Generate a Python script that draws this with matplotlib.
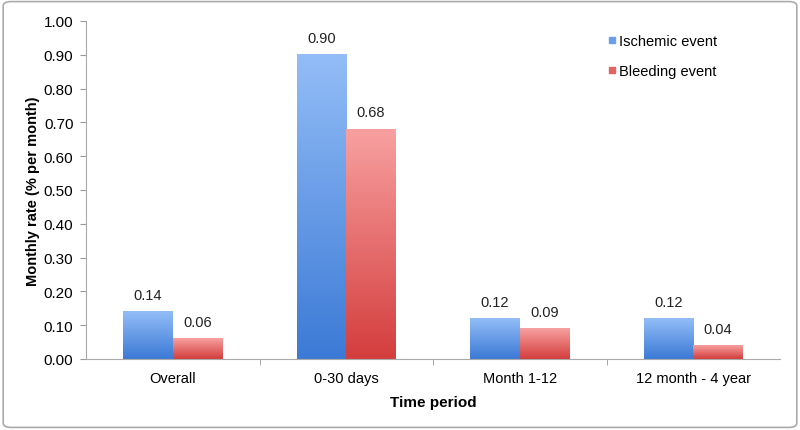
import numpy as np
import matplotlib.pyplot as plt
from matplotlib.patches import FancyBboxPatch
from matplotlib.colors import LinearSegmentedColormap
from matplotlib.lines import Line2D

plt.rcParams['font.family'] = ['Liberation Sans', 'DejaVu Sans']

# data
categories = ['Overall', '0-30 days', 'Month 1-12', '12 month - 4 year']
ischemic = [0.14, 0.90, 0.12, 0.12]
bleeding = [0.06, 0.68, 0.09, 0.04]
series_names = ['Ischemic event', 'Bleeding event']

# gradient colours (bottom, top)
blue_cm = LinearSegmentedColormap.from_list('b', ['#3c7ad6', '#93bdf7'])
red_cm = LinearSegmentedColormap.from_list('r', ['#d43d3d', '#f8a0a0'])

fig = plt.figure(figsize=(8, 4.31), dpi=100)
ax = fig.add_axes([0.1075, 0.165, 0.8675, 0.784])

x = np.arange(len(categories))
w = 0.285
b1 = ax.bar(x - w / 2, ischemic, w, color='none', label=series_names[0])
b2 = ax.bar(x + w / 2, bleeding, w, color='none', label=series_names[1])

grad = np.linspace(0, 1, 256).reshape(-1, 1)
for bars, cm in ((b1, blue_cm), (b2, red_cm)):
    for r in bars:
        x0, y0 = r.get_x(), r.get_y()
        ax.imshow(grad, cmap=cm, origin='lower', aspect='auto',
                  extent=(x0, x0 + r.get_width(), y0, y0 + r.get_height()),
                  zorder=2)

for bars, vals in ((b1, ischemic), (b2, bleeding)):
    for r, v in zip(bars, vals):
        ax.annotate('%.2f' % v, (r.get_x() + r.get_width() / 2, v),
                    xytext=(0, 7), textcoords='offset points',
                    ha='center', va='bottom', fontsize=10.5, color='#222222')

ax.set_xlim(-0.5, len(categories) - 0.5)
ax.set_ylim(0, 1.0)
ax.set_yticks(np.arange(0, 1.01, 0.1))
ax.set_yticklabels(['%.2f' % t for t in np.arange(0, 1.01, 0.1)], fontsize=11)
ax.set_xticks(x)
ax.set_xticklabels(categories, fontsize=10.5)
ax.tick_params(axis='x', length=0, pad=9)
ax.set_xticks(np.arange(0.5, len(categories) - 0.5, 1), minor=True)
ax.tick_params(axis='x', which='minor', length=4, color='#999999')
ax.tick_params(axis='y', length=4, color='#999999', pad=5)

for s in ('top', 'right'):
    ax.spines[s].set_visible(False)
for s in ('left', 'bottom'):
    ax.spines[s].set_color('#aaaaaa')

ax.set_xlabel('Time period', fontsize=11, fontweight='bold', labelpad=7)
ax.set_ylabel('Monthly rate (% per month)', fontsize=10.5, fontweight='bold',
              labelpad=3)

# legend with small square markers
handles = [Line2D([], [], marker='s', ls='none', markersize=5,
                  color='#6a9ee8'),
           Line2D([], [], marker='s', ls='none', markersize=5,
                  color='#e46464')]
ax.legend(handles, series_names, loc='upper left',
          bbox_to_anchor=(0.735, 1.0), frameon=False, fontsize=10.5,
          handlelength=0.4, handletextpad=0.3, labelspacing=1.1)

# rounded border around the figure
fig.patches.append(FancyBboxPatch((0.004, 0.006), 0.992, 0.988,
                                  boxstyle='round,pad=0,rounding_size=0.01',
                                  transform=fig.transFigure, fill=False,
                                  edgecolor='#aaaaaa', lw=1.2))

fig.savefig('out.png', dpi=100)
